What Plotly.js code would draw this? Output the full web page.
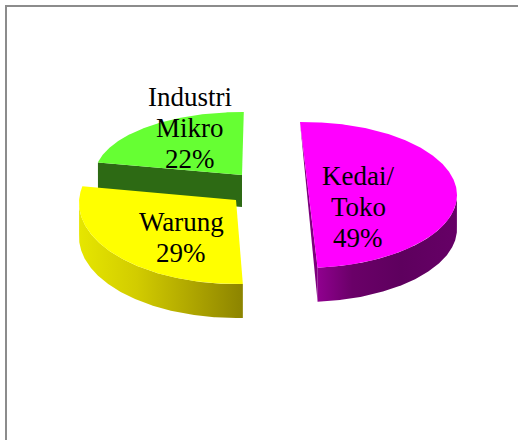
<!DOCTYPE html>
<html><head><meta charset="utf-8">
<script src="https://cdn.plot.ly/plotly-3.0.1.min.js"></script>
<style>html,body{margin:0;padding:0;background:#fff;overflow:hidden}</style>
</head><body><div id="chart" style="width:518px;height:440px"></div>
<script>
const categories = [['Kedai/', 'Toko'], ['Warung'], ['Industri', 'Mikro']];
const values = [49, 29, 22];

// Drawing geometry of the tilted, exploded pie (pixels of the 518x440 frame)
const geometry = [
  {cx:304, cy:195, ay:195, a:153, b:73, start:-1.5, depth:34, top:'#ff00ff'},
  {cx:236, cy:203, ay:200, a:157, b:81, start:177.5, depth:34, top:'#ffff00'},
  {cx:242, cy:175, ay:175, a:147, b:63, start:281.5, depth:32, top:'#66ff33'}
];
const labelPos = [[358, 176], [181, 222], [190, 97]];
const lineGap = 31;

function pt(g, t, dy) {
  const r = t * Math.PI / 180;
  return [g.cx + g.a * Math.sin(r), g.cy - g.b * Math.cos(r) + (dy || 0)];
}
function arc(g, t0, t1, dy) {
  const n = Math.max(2, Math.ceil(Math.abs(t1 - t0) * 2)), out = [];
  for (let i = 0; i <= n; i++) out.push(pt(g, t0 + (t1 - t0) * i / n, dy));
  return out;
}
function poly(points, extra) {
  return Object.assign({
    x: points.map(p => p[0]).concat(points[0][0]),
    y: points.map(p => p[1]).concat(points[0][1]),
    type: 'scatter', mode: 'lines', fill: 'toself',
    line: {width: 0}, hoverinfo: 'skip', showlegend: false
  }, extra);
}
function grad(stops) {
  return {fillgradient: {type: 'horizontal', colorscale: stops}};
}
const spans = values.map(v => v * 3.6);
const traces = [];

// Industri Mikro: cut face, then top
{
  const g = geometry[2], s = g.start, e = s + spans[2];
  const p = pt(g, s);
  traces.push(poly([p, [g.cx, g.ay], [g.cx, g.ay + g.depth], [p[0], p[1] + g.depth]],
    {fillcolor: '#2d6a14'}));
  traces.push(poly([[g.cx, g.ay]].concat(arc(g, s, e)), {fillcolor: g.top}));
}
// Warung: outer wall, then top
{
  const g = geometry[1], s = g.start, e = s + spans[1];
  const wall = arc(g, s, 272).concat(arc(g, 272, s, g.depth));
  traces.push(poly(wall, grad([[0, '#e6e600'], [0.35, '#d2cc00'], [0.75, '#a89f00'], [1, '#8c8400']])));
  traces.push(poly([[g.cx, g.ay]].concat(arc(g, s, e)), {fillcolor: g.top}));
}
// Kedai/Toko: cut face, outer wall, then top
{
  const g = geometry[0], s = g.start, e = s + spans[0];
  const a = pt(g, s), b = pt(g, e);
  traces.push(poly([a, b, [b[0], b[1] + g.depth]], {fillcolor: '#7d007d'}));
  const wall = arc(g, 88, e).concat(arc(g, e, 88, g.depth));
  traces.push(poly(wall, grad([[0, '#90008f'], [0.25, '#6a0068'], [0.6, '#5e005e'], [1, '#660066']])));
  traces.push(poly([a].concat(arc(g, s, e)), {fillcolor: g.top}));
}

// One annotation per text line, to hold the reference's tight line spacing
const annotations = [];
categories.forEach((lines, i) => {
  lines.concat(values[i] + '%').forEach((text, k) => {
    annotations.push({
      x: labelPos[i][0], y: labelPos[i][1] + k * lineGap, xref: 'x', yref: 'y',
      text, showarrow: false, align: 'center', xanchor: 'center', yanchor: 'middle',
      font: {family: '"Liberation Serif", serif', size: 27, color: '#000'}
    });
  });
});

Plotly.newPlot('chart', traces, {
  width: 518, height: 440,
  margin: {l: 0, r: 0, t: 0, b: 0},
  paper_bgcolor: '#fff', plot_bgcolor: '#fff',
  xaxis: {range: [0, 518], visible: false, fixedrange: true},
  yaxis: {range: [440, 0], visible: false, fixedrange: true},
  showlegend: false, hovermode: false,
  annotations,
  shapes: [{type: 'rect', xref: 'x', yref: 'y', x0: 6, y0: 6, x1: 540, y1: 460,
    line: {color: '#8c8c8c', width: 2}, fillcolor: 'rgba(0,0,0,0)', layer: 'above'}]
}, {displayModeBar: false, staticPlot: true});
</script></body></html>
